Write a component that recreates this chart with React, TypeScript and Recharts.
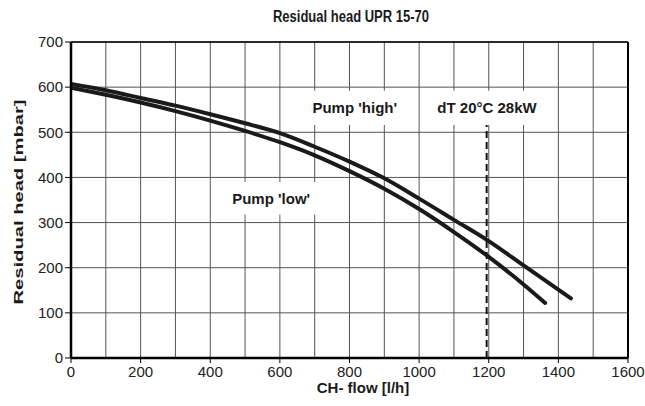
import { LineChart, Line, XAxis, YAxis, CartesianGrid, ReferenceArea, ReferenceLine } from "recharts";

const flowHigh = [0, 100, 200, 300, 400, 500, 600, 700, 800, 900, 1000, 1100, 1200, 1300, 1436];
const headHigh = [607, 593, 576, 559, 540, 520, 498, 468, 435, 398, 353, 306, 259, 205, 132];

const flowLow = [0, 100, 200, 300, 400, 500, 600, 700, 800, 900, 1000, 1100, 1200, 1300, 1362];
const headLow = [599, 583, 566, 547, 526, 503, 478, 449, 414, 375, 330, 279, 224, 163, 122];

const xTicks = [0, 100, 200, 300, 400, 500, 600, 700, 800, 900, 1000, 1100, 1200, 1300, 1400, 1500, 1600];
const yTicks = [0, 100, 200, 300, 400, 500, 600, 700];

const designFlow = 1194;

const highData = flowHigh.map((x, i) => ({ x, y: headHigh[i] }));
const lowData = flowLow.map((x, i) => ({ x, y: headLow[i] }));

const FONT = "'Liberation Sans', Arial, sans-serif";

const XTick = ({ x, y, payload }: any) => {
  if (payload.value % 200 !== 0) return null;
  return (
    <g>
      <line x1={x} x2={x} y1={y} y2={y + 5} stroke="#000" strokeWidth={1} />
      <text x={x} y={y + 19} textAnchor="middle" fontSize={15} fontFamily={FONT} fill="#222">
        {payload.value}
      </text>
    </g>
  );
};

const boxLabel = (value: string) => ({
  value,
  position: "center" as const,
  fontSize: 15,
  fontWeight: "bold",
  fontFamily: FONT,
  fill: "#1a1a1a",
});

export default function App() {
  return (
    <div style={{ position: "relative", width: 645, height: 406, background: "#fff", fontFamily: FONT }}>
      <style>{"body{margin:0}"}</style>
      <div
        style={{
          position: "absolute",
          left: 351,
          top: 9,
          transform: "translateX(-50%) scale(1,1.2)",
          fontSize: 13,
          fontWeight: "bold",
          color: "#1a1a1a",
          whiteSpace: "nowrap",
        }}
      >
        Residual head UPR 15-70
      </div>
      <div
        style={{
          position: "absolute",
          left: 18,
          top: 202,
          transform: "translate(-50%,-50%) rotate(-90deg) scale(1.55,1)",
          fontSize: 13,
          fontWeight: "bold",
          color: "#1a1a1a",
          whiteSpace: "nowrap",
        }}
      >
        Residual head [mbar]
      </div>
      <div
        style={{
          position: "absolute",
          left: 363,
          top: 379,
          transform: "translateX(-50%)",
          fontSize: 15,
          fontWeight: "bold",
          color: "#1a1a1a",
          whiteSpace: "nowrap",
        }}
      >
        CH- flow [l/h]
      </div>
      <LineChart width={645} height={406} margin={{ top: 42, right: 17, left: 11, bottom: 8 }}>
        <CartesianGrid stroke="#555" strokeWidth={1} />
        <XAxis
          type="number"
          dataKey="x"
          domain={[0, 1600]}
          ticks={xTicks}
          interval={0}
          height={40}
          tickSize={0}
          tickMargin={0}
          tick={<XTick />}
          axisLine={{ stroke: "#000", strokeWidth: 2.5 }}
          allowDataOverflow
        />
        <YAxis
          type="number"
          domain={[0, 700]}
          ticks={yTicks}
          interval={0}
          width={60}
          tickSize={6}
          tickMargin={2}
          tickLine={{ stroke: "#000" }}
          axisLine={{ stroke: "#000", strokeWidth: 2.5 }}
          tick={{ fontSize: 15, fontFamily: FONT, fill: "#222" }}
        />
        <ReferenceLine y={700} stroke="#000" strokeWidth={1.5} />
        <ReferenceLine x={1600} stroke="#000" strokeWidth={2} />
        <ReferenceArea x1={650} x2={980} y1={516} y2={592} fill="#fff" fillOpacity={1} stroke="none" label={boxLabel("Pump 'high'")} />
        <ReferenceArea x1={1030} x2={1360} y1={516} y2={592} fill="#fff" fillOpacity={1} stroke="none" label={boxLabel("dT 20°C 28kW")} />
        <ReferenceArea x1={430} x2={720} y1={318} y2={390} fill="#fff" fillOpacity={1} stroke="none" label={boxLabel("Pump 'low'")} />
        <ReferenceLine
          segment={[
            { x: designFlow, y: 0 },
            { x: designFlow, y: 516 },
          ]}
          stroke="#111"
          strokeWidth={2}
          strokeDasharray="7 4"
        />
        <Line
          data={highData}
          dataKey="y"
          type="monotone"
          stroke="#1a1a1a"
          strokeWidth={4}
          strokeLinecap="round"
          dot={false}
          isAnimationActive={false}
        />
        <Line
          data={lowData}
          dataKey="y"
          type="monotone"
          stroke="#1a1a1a"
          strokeWidth={4}
          strokeLinecap="round"
          dot={false}
          isAnimationActive={false}
        />
      </LineChart>
    </div>
  );
}
